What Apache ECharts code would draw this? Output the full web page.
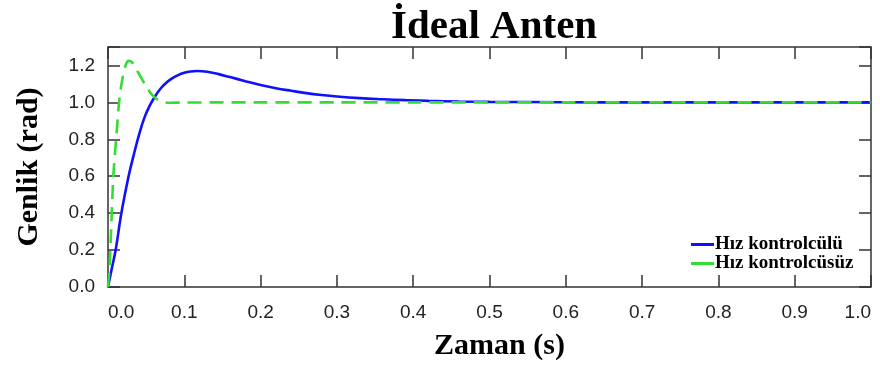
<!DOCTYPE html>
<html>
<head>
<meta charset="utf-8">
<script src="https://cdn.jsdelivr.net/npm/echarts@6/dist/echarts.min.js"></script>
<style>
html,body{margin:0;padding:0;background:#fff;}
#c{width:880px;height:370px;}
</style>
</head>
<body>
<div id="c"></div>
<script>
// ---- data ----
var titleText = 'İdeal Anten';
var xName = 'Zaman (s)';
var yName = 'Genlik (rad)';
var seriesNames = ['Hız kontrolcülü', 'Hız kontrolcüsüz'];

var blueT = [0, 0.005, 0.01, 0.0175, 0.027, 0.034, 0.041, 0.048, 0.055, 0.062, 0.069, 0.076, 0.084, 0.092, 0.1, 0.108, 0.117, 0.13, 0.145, 0.16, 0.18, 0.2, 0.22, 0.24, 0.26, 0.28, 0.3, 0.33, 0.36, 0.39, 0.42, 0.46, 0.5, 0.6, 0.7, 0.8, 0.9, 1.0];
var blueY = [0, 0.1, 0.2, 0.4, 0.6, 0.72, 0.83, 0.92, 0.985, 1.035, 1.075, 1.105, 1.13, 1.148, 1.16, 1.167, 1.17, 1.166, 1.153, 1.137, 1.115, 1.094, 1.077, 1.063, 1.05, 1.04, 1.032, 1.023, 1.017, 1.012, 1.008, 1.005, 1.003, 1.001, 1.0, 1.0, 1.0, 1.0];

var greenT = [0, 0.002, 0.004, 0.007, 0.011, 0.015, 0.019, 0.023, 0.027, 0.032, 0.037, 0.044, 0.051, 0.058, 0.065, 0.072, 0.08, 0.1, 0.15, 0.2, 0.3, 0.4, 0.5, 0.6, 0.7, 0.8, 0.9, 1.0];
var greenY = [0, 0.1, 0.3, 0.6, 0.82, 1.02, 1.13, 1.2, 1.225, 1.215, 1.18, 1.13, 1.08, 1.04, 1.015, 1.003, 0.998, 0.999, 1.0, 1.0, 1.0, 1.0, 1.0, 1.0, 1.0, 1.0, 1.0, 1.0];

var xMin = 0, xMax = 1.0, xStep = 0.1;
var yMin = 0, yMax = 1.3, yStep = 0.2;

function zip(a, b) { return a.map(function (v, i) { return [v, b[i]]; }); }

var chart = echarts.init(document.getElementById('c'), null, {renderer: 'canvas'});
var tickFont = 'Liberation Sans';
var serif = 'Liberation Serif';
var tickStyle = {show: true, inside: true, length: 12, lineStyle: {color: '#333', width: 1.5}};

var option = {
  animation: false,
  backgroundColor: '#ffffff',
  title: {
    text: titleText,
    left: 386, top: 2,
    textStyle: {fontFamily: serif, fontWeight: 'bold', fontSize: 41, color: '#000'}
  },
  legend: {
    orient: 'vertical',
    left: 686, top: 230,
    icon: 'rect', itemWidth: 23, itemHeight: 3, itemGap: 0,
    data: seriesNames,
    textStyle: {fontFamily: serif, fontWeight: 'bold', fontSize: 19, color: '#000', padding: [0, 0, 0, -4], lineHeight: 19}
  },
  grid: {
    left: 108, right: 9, top: 47, bottom: 83,
    show: true, borderColor: '#333', borderWidth: 1.5, backgroundColor: 'transparent'
  },
  xAxis: [{
    type: 'value', min: xMin, max: xMax, interval: xStep, position: 'bottom',
    name: xName, nameLocation: 'middle', nameGap: 44,
    nameTextStyle: {fontFamily: serif, fontWeight: 'bold', fontSize: 30, color: '#000', padding: [0, 0, 0, 20]},
    axisLine: {show: false, onZero: false},
    axisTick: tickStyle,
    axisLabel: {
      margin: 16, fontFamily: tickFont, fontSize: 19, color: '#222',
      alignMinLabel: 'left', alignMaxLabel: 'right',
      formatter: function (v) { return v.toFixed(1); }
    },
    splitLine: {show: false}
  }, {
    type: 'value', position: 'top', min: xMin, max: xMax, interval: xStep,
    axisLine: {show: false, onZero: false},
    axisTick: tickStyle,
    axisLabel: {show: false}, splitLine: {show: false}
  }],
  yAxis: [{
    type: 'value', min: yMin, max: yMax, interval: yStep, position: 'left',
    name: yName, nameLocation: 'middle', nameGap: 64,
    nameTextStyle: {fontFamily: serif, fontWeight: 'bold', fontSize: 30, color: '#000'},
    axisLine: {show: false, onZero: false},
    axisTick: tickStyle,
    axisLabel: {
      margin: 13, fontFamily: tickFont, fontSize: 19, color: '#222',
      formatter: function (v) { return Math.abs(v - yMax) < 1e-6 ? '' : v.toFixed(1); }
    },
    splitLine: {show: false}
  }, {
    type: 'value', position: 'right', min: yMin, max: yMax, interval: yStep,
    axisLine: {show: false, onZero: false},
    axisTick: tickStyle,
    axisLabel: {show: false}, splitLine: {show: false}
  }],
  series: [{
    name: seriesNames[0], type: 'line', xAxisIndex: 0, yAxisIndex: 0,
    data: zip(blueT, blueY), showSymbol: false, symbol: 'none', smooth: 0.4,
    itemStyle: {color: '#1010ff'},
    lineStyle: {color: '#1010ff', width: 2.6}
  }, {
    name: seriesNames[1], type: 'line', xAxisIndex: 0, yAxisIndex: 0,
    data: zip(greenT, greenY), showSymbol: false, symbol: 'none', smooth: 0.3,
    itemStyle: {color: '#33dd33'},
    lineStyle: {color: '#33dd33', width: 2.6, type: [14, 8]}
  }]
};
chart.setOption(option);
</script>
</body>
</html>
